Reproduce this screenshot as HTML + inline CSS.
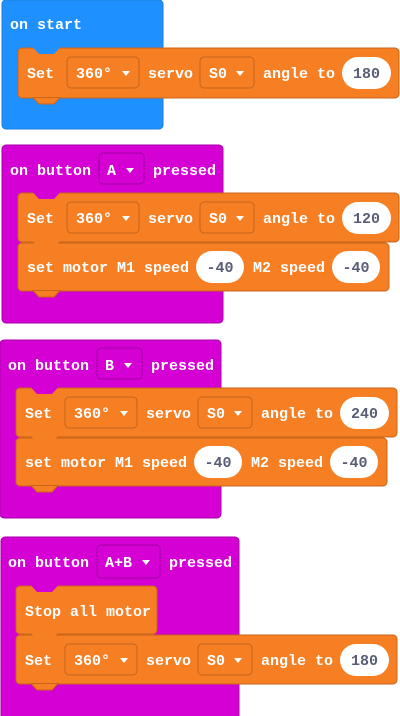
<!DOCTYPE html>
<html><head><meta charset="utf-8"><style>
html,body{margin:0;padding:0;background:#fff;width:400px;height:716px;overflow:hidden}
svg text{font-family:"Liberation Mono",monospace;font-weight:bold;font-size:15px;fill:#fff}
svg text.v{fill:#575E75;text-anchor:middle}
</style></head><body>
<svg width="400" height="716" xmlns="http://www.w3.org/2000/svg">
<defs>
<g id="tri"><polygon points="0,0 8,0 4,5" fill="#fff"/></g>
</defs>
<!-- Block 1 -->
<rect x="2" y="0" width="161" height="129" rx="4" fill="#1E90FF" stroke="#1a7fe0"/>
<text x="10" y="29">on start</text>
<rect x="18" y="48" width="381" height="50" rx="4" fill="#F67F24" stroke="#C9651A"/>
<polygon points="33,47.5 39,54 54,54 60,47.5" fill="#1E90FF"/>
<polygon points="33,97.5 39,104 54,104 60,97.5" fill="#F67F24" stroke="#C9651A"/>
<text x="27" y="78">Set</text>
<rect x="67" y="57" width="72" height="31" rx="4" fill="none" stroke="#C4641B"/>
<text x="76" y="78">360°</text><use href="#tri" x="122" y="71"/>
<text x="148" y="78">servo</text>
<rect x="200" y="57" width="54" height="31" rx="4" fill="none" stroke="#C4641B"/>
<text x="209" y="78">S0</text><use href="#tri" x="236" y="71"/>
<text x="263" y="78">angle to</text>
<rect x="342" y="57" width="49" height="32" rx="16" fill="#fff"/>
<text class="v" x="366.5" y="78">180</text>

<!-- Block 2 -->
<rect x="2" y="145" width="221" height="178" rx="4" fill="#D400D4" stroke="#a800a8"/>
<text x="10" y="175">on button</text>
<rect x="99" y="153" width="45" height="31" rx="4" fill="none" stroke="#A000A0"/>
<text x="107" y="175">A</text><use href="#tri" x="126" y="168"/>
<text x="153" y="175">pressed</text>
<rect x="18" y="193" width="381" height="49" rx="4" fill="#F67F24" stroke="#C9651A"/>
<polygon points="33,192.5 39,199 54,199 60,192.5" fill="#D400D4"/>
<text x="27" y="223">Set</text>
<rect x="67" y="202" width="72" height="31" rx="4" fill="none" stroke="#C4641B"/>
<text x="76" y="223">360°</text><use href="#tri" x="122" y="216"/>
<text x="148" y="223">servo</text>
<rect x="200" y="202" width="54" height="31" rx="4" fill="none" stroke="#C4641B"/>
<text x="209" y="223">S0</text><use href="#tri" x="236" y="216"/>
<text x="263" y="223">angle to</text>
<rect x="342" y="202" width="49" height="32" rx="16" fill="#fff"/>
<text class="v" x="366.5" y="223">120</text>
<rect x="18" y="243" width="371" height="48" rx="4" fill="#F67F24" stroke="#C9651A"/>
<polygon points="33,241 39,248 54,248 60,241" fill="#F67F24"/>
<polygon points="33,290.5 39,297 54,297 60,290.5" fill="#F67F24" stroke="#C9651A"/>
<text x="27" y="272">set motor M1 speed</text>
<rect x="196" y="251" width="48" height="32" rx="16" fill="#fff"/>
<text class="v" x="220" y="272">-40</text>
<text x="253" y="272">M2 speed</text>
<rect x="332" y="251" width="48" height="32" rx="16" fill="#fff"/>
<text class="v" x="356" y="272">-40</text>

<!-- Block 3 -->
<rect x="0" y="340" width="221" height="178" rx="4" fill="#D400D4" stroke="#a800a8"/>
<text x="8" y="370">on button</text>
<rect x="97" y="348" width="45" height="31" rx="4" fill="none" stroke="#A000A0"/>
<text x="105" y="370">B</text><use href="#tri" x="124" y="363"/>
<text x="151" y="370">pressed</text>
<rect x="16" y="388" width="381" height="49" rx="4" fill="#F67F24" stroke="#C9651A"/>
<polygon points="31,387.5 37,394 52,394 58,387.5" fill="#D400D4"/>
<text x="25" y="418">Set</text>
<rect x="65" y="397" width="72" height="31" rx="4" fill="none" stroke="#C4641B"/>
<text x="74" y="418">360°</text><use href="#tri" x="120" y="411"/>
<text x="146" y="418">servo</text>
<rect x="198" y="397" width="54" height="31" rx="4" fill="none" stroke="#C4641B"/>
<text x="207" y="418">S0</text><use href="#tri" x="234" y="411"/>
<text x="261" y="418">angle to</text>
<rect x="340" y="397" width="49" height="32" rx="16" fill="#fff"/>
<text class="v" x="364.5" y="418">240</text>
<rect x="16" y="438" width="371" height="48" rx="4" fill="#F67F24" stroke="#C9651A"/>
<polygon points="31,436 37,443 52,443 58,436" fill="#F67F24"/>
<polygon points="31,485.5 37,492 52,492 58,485.5" fill="#F67F24" stroke="#C9651A"/>
<text x="25" y="467">set motor M1 speed</text>
<rect x="194" y="446" width="48" height="32" rx="16" fill="#fff"/>
<text class="v" x="218" y="467">-40</text>
<text x="251" y="467">M2 speed</text>
<rect x="330" y="446" width="48" height="32" rx="16" fill="#fff"/>
<text class="v" x="354" y="467">-40</text>

<!-- Block 4 -->
<rect x="1" y="537" width="238" height="185" rx="4" fill="#D400D4" stroke="#a800a8"/>
<text x="8" y="567">on button</text>
<rect x="97" y="545" width="63" height="33" rx="4" fill="none" stroke="#A000A0"/>
<text x="105" y="567">A+B</text><use href="#tri" x="142" y="560"/>
<text x="169" y="567">pressed</text>
<rect x="16" y="586" width="141" height="48" rx="4" fill="#F67F24" stroke="#C9651A"/>
<polygon points="31,585.5 37,592 52,592 58,585.5" fill="#D400D4"/>
<text x="25" y="616">Stop all motor</text>
<rect x="16" y="635" width="381" height="49" rx="4" fill="#F67F24" stroke="#C9651A"/>
<polygon points="31,633 37,640 52,640 58,633" fill="#F67F24"/>
<polygon points="31,683.5 37,690 52,690 58,683.5" fill="#F67F24" stroke="#C9651A"/>
<text x="25" y="665">Set</text>
<rect x="65" y="644" width="72" height="31" rx="4" fill="none" stroke="#C4641B"/>
<text x="74" y="665">360°</text><use href="#tri" x="120" y="658"/>
<text x="146" y="665">servo</text>
<rect x="198" y="644" width="54" height="31" rx="4" fill="none" stroke="#C4641B"/>
<text x="207" y="665">S0</text><use href="#tri" x="234" y="658"/>
<text x="261" y="665">angle to</text>
<rect x="340" y="644" width="49" height="32" rx="16" fill="#fff"/>
<text class="v" x="364.5" y="665">180</text>
</svg>
</body></html>
